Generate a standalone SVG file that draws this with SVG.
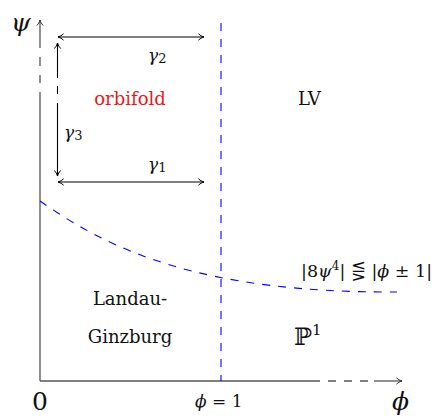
<svg xmlns="http://www.w3.org/2000/svg" width="442" height="417" viewBox="0 0 442 417">
<style>
.ax{stroke:#555;stroke-width:1.3;fill:none}
.ar{stroke:#000;stroke-width:1.1;fill:none}
.bl{stroke:#0000ff;stroke-width:1.1;fill:none;stroke-dasharray:8 8}
.t{font-family:"DejaVu Serif","Liberation Serif",serif;fill:#111}
.m{font-family:"DejaVu Serif","Liberation Serif",serif;font-style:italic;fill:#111}
</style>
<defs>
<marker id="hd" viewBox="0 0 10 10" refX="9" refY="5" markerWidth="8" markerHeight="8" markerUnits="userSpaceOnUse" orient="auto-start-reverse">
<path d="M2,1 Q5,4 9,5 Q5,6 2,9" fill="none" stroke="#000" stroke-width="1.2"/>
</marker>
<marker id="ha" viewBox="0 0 10 10" refX="9" refY="5" markerWidth="8" markerHeight="8" markerUnits="userSpaceOnUse" orient="auto">
<path d="M2,1 Q5,4 9,5 Q5,6 2,9" fill="none" stroke="#333" stroke-width="1.2"/>
</marker>
</defs>
<g id="connectors">
<path class="ax" d="M40,381 V92 M40,83 V75 M40,66 V57"/>
<path class="ax" d="M40,48 V20" marker-end="url(#ha)"/>
<path class="ax" d="M40,381 H320 M328,381 H336 M344,381 H352 M360,381 H368"/>
<path class="ax" d="M374,381 H402" marker-end="url(#ha)"/>
<path class="ar" d="M57.5,78 V43" marker-end="url(#hd)"/>
<path class="ar" d="M57.5,86 V94"/>
<path class="ar" d="M57.5,103 V176" marker-end="url(#hd)"/>
<path class="ar" d="M58,37 H204" marker-start="url(#hd)" marker-end="url(#hd)"/>
<path class="ar" d="M58,182 H204" marker-start="url(#hd)" marker-end="url(#hd)"/>
<path class="bl" d="M221,23 V381"/>
<path class="bl" d="M40,201 C110,250 200,293 397,292"/>
</g>
<g id="axis-labels">
<text class="m" x="11" y="31" font-size="25">ψ</text>
<text class="t" x="32" y="410" font-size="25">0</text>
<text class="m" x="392" y="410" font-size="25">ϕ</text>
<text class="t" x="195" y="407" font-size="17"><tspan font-style="italic">ϕ</tspan> = 1</text>
</g>
<g id="gamma-labels">
<text class="m" x="148" y="61" font-size="17">γ<tspan class="t" font-style="normal" font-size="13" dy="2">2</tspan></text>
<text class="m" x="64" y="138" font-size="17">γ<tspan class="t" font-style="normal" font-size="13" dy="2">3</tspan></text>
<text class="m" x="148" y="170" font-size="17">γ<tspan class="t" font-style="normal" font-size="13" dy="2">1</tspan></text>
</g>
<g id="orbifold"><text class="t" x="130" y="105" font-size="18" text-anchor="middle" style="fill:#e8191a">orbifold</text></g>
<g id="LV"><text class="t" x="298" y="105" font-size="18">LV</text></g>
<g id="LG">
<text class="t" x="130" y="305" font-size="18" text-anchor="middle">Landau-</text>
<text class="t" x="130" y="343" font-size="18" text-anchor="middle">Ginzburg</text>
</g>
<g id="P1"><text class="t" x="294" y="345" font-size="24">ℙ<tspan font-size="15" dy="-10">1</tspan></text></g>
<g id="condition"><text class="t" x="301" y="277" font-size="17.5">|8<tspan font-style="italic">ψ</tspan><tspan font-size="12" dy="-7">4</tspan><tspan dy="7">| ⋚ |</tspan><tspan font-style="italic">ϕ</tspan> ± 1|</text></g>
</svg>
